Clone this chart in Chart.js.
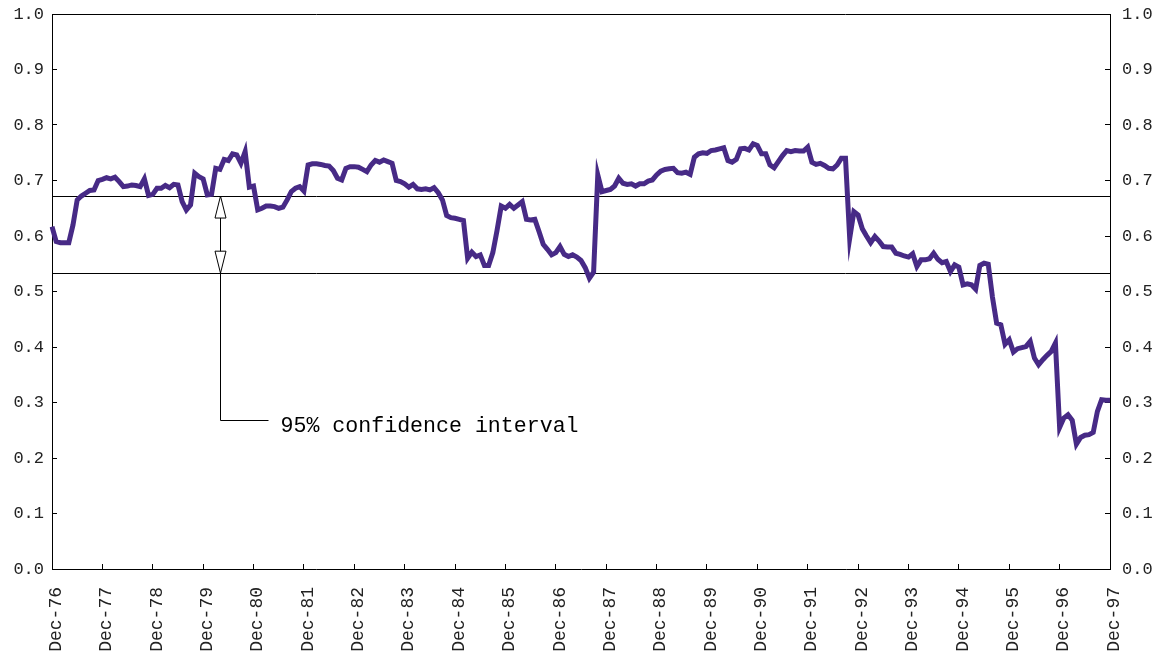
<!DOCTYPE html>
<html>
<head>
<meta charset="utf-8">
<script src="https://cdn.jsdelivr.net/npm/chart.js@4.4.1/dist/chart.umd.min.js"></script>
<style>
  html, body { margin: 0; padding: 0; background: #fff; }
  #chart { display: block; }
</style>
</head>
<body>
<canvas id="chart" width="1152" height="658"></canvas>
<script>
// Year-end tick labels (one every 12 months)
const tickLabels = ['Dec-76','Dec-77','Dec-78','Dec-79','Dec-80','Dec-81','Dec-82',
    'Dec-83','Dec-84','Dec-85','Dec-86','Dec-87','Dec-88','Dec-89','Dec-90',
    'Dec-91','Dec-92','Dec-93','Dec-94','Dec-95','Dec-96','Dec-97'];

// Monthly values, Dec-76 .. Dec-97 (one row per year, starting at Dec)
const values = [
    0.617, 0.590, 0.588, 0.588, 0.588, 0.620, 0.665, 0.672, 0.677, 0.682, 0.683, 0.700,
    0.702, 0.705, 0.703, 0.706, 0.698, 0.689, 0.690, 0.692, 0.691, 0.689, 0.703, 0.673,
    0.675, 0.686, 0.686, 0.691, 0.687, 0.693, 0.692, 0.662, 0.647, 0.656, 0.713, 0.707,
    0.703, 0.674, 0.675, 0.722, 0.720, 0.738, 0.736, 0.748, 0.746, 0.731, 0.752, 0.688,
    0.690, 0.647, 0.650, 0.654, 0.654, 0.653, 0.650, 0.652, 0.665, 0.680, 0.686, 0.689,
    0.681, 0.728, 0.730, 0.730, 0.729, 0.727, 0.726, 0.718, 0.704, 0.701, 0.722, 0.725,
    0.725, 0.724, 0.720, 0.716, 0.728, 0.736, 0.733, 0.737, 0.734, 0.731, 0.700, 0.698,
    0.694, 0.688, 0.693, 0.685, 0.684, 0.685, 0.683, 0.687, 0.678, 0.665, 0.637, 0.633,
    0.632, 0.630, 0.628, 0.560, 0.571, 0.563, 0.566, 0.547, 0.547, 0.570, 0.610, 0.654,
    0.650, 0.657, 0.650, 0.656, 0.662, 0.630, 0.629, 0.630, 0.608, 0.585, 0.576, 0.566,
    0.570, 0.581, 0.567, 0.563, 0.566, 0.562, 0.556, 0.543, 0.524, 0.535, 0.710, 0.680,
    0.682, 0.684, 0.690, 0.704, 0.695, 0.693, 0.694, 0.690, 0.694, 0.694, 0.699, 0.701,
    0.710, 0.717, 0.720, 0.721, 0.722, 0.714, 0.713, 0.715, 0.711, 0.742, 0.748, 0.750,
    0.749, 0.754, 0.755, 0.757, 0.759, 0.736, 0.733, 0.738, 0.757, 0.758, 0.755, 0.766,
    0.763, 0.748, 0.748, 0.728, 0.723, 0.734, 0.745, 0.754, 0.752, 0.754, 0.753, 0.753,
    0.760, 0.733, 0.729, 0.731, 0.727, 0.722, 0.721, 0.728, 0.740, 0.740, 0.596, 0.644,
    0.638, 0.613, 0.600, 0.588, 0.599, 0.591, 0.581, 0.580, 0.580, 0.569, 0.567, 0.564,
    0.562, 0.568, 0.545, 0.557, 0.557, 0.559, 0.569, 0.558, 0.552, 0.554, 0.536, 0.548,
    0.544, 0.512, 0.514, 0.512, 0.504, 0.547, 0.551, 0.549, 0.490, 0.443, 0.440, 0.405,
    0.413, 0.391, 0.397, 0.399, 0.401, 0.410, 0.380, 0.368, 0.377, 0.385, 0.392, 0.407,
    0.255, 0.272, 0.278, 0.268, 0.225, 0.237, 0.241, 0.242, 0.246, 0.284, 0.305, 0.304,
    0.304
];

// 95% confidence band (lower, upper)
const ciBounds = [0.533, 0.672];
const noteText = '95% confidence interval';
const noteIndex = 40;     // month where the arrow sits
const noteValue = 0.268;  // level of the callout line

// one category per month; only Decembers get a label
const months = values.map((v, i) => i % 12 === 0 ? tickLabels[i / 12] : '');

const FONT = "'Liberation Mono', 'DejaVu Sans Mono', monospace";

function arrowHead(ctx, x, tipY, dir) {
    // open triangle, dir = -1 up, +1 down
    const h = 22, w = 5.5;
    ctx.beginPath();
    ctx.moveTo(x, tipY);
    ctx.lineTo(x - w, tipY - dir * h);
    ctx.lineTo(x + w, tipY - dir * h);
    ctx.closePath();
    ctx.fillStyle = '#fff';
    ctx.fill();
    ctx.stroke();
}

const bandPlugin = {
    id: 'band',
    beforeDatasetsDraw(chart) {
        const { ctx, chartArea: a, scales: { y } } = chart;
        ctx.save();
        ctx.strokeStyle = '#000';
        ctx.lineWidth = 1;
        ciBounds.forEach(b => {
            const py = Math.round(y.getPixelForValue(b)) + 0.5;
            ctx.beginPath();
            ctx.moveTo(a.left, py);
            ctx.lineTo(a.right, py);
            ctx.stroke();
        });
        // top frame line
        ctx.beginPath();
        ctx.moveTo(a.left, Math.round(a.top) + 0.5);
        ctx.lineTo(a.right, Math.round(a.top) + 0.5);
        ctx.stroke();
        ctx.restore();
    },
    afterDatasetsDraw(chart) {
        const { ctx, scales: { x, y } } = chart;
        const px = Math.round(x.getPixelForValue(noteIndex)) + 0.5;
        const top = y.getPixelForValue(ciBounds[1]);
        const bot = y.getPixelForValue(ciBounds[0]);
        const ny = Math.round(y.getPixelForValue(noteValue)) + 0.5;
        ctx.save();
        ctx.strokeStyle = '#000';
        ctx.lineWidth = 1;
        ctx.beginPath();
        ctx.moveTo(px, top);
        ctx.lineTo(px, ny);
        ctx.lineTo(px + 48, ny);
        ctx.stroke();
        arrowHead(ctx, px, top, -1);
        arrowHead(ctx, px, bot, 1);
        ctx.fillStyle = '#000';
        ctx.font = "21.6px " + FONT;
        ctx.textBaseline = 'middle';
        ctx.fillText(noteText, px + 60, ny + 6);
        ctx.restore();
    }
};

// drop the automatic edge padding Chart.js adds for overhanging labels
function noPad(s) {
    s.paddingTop = 0;
    s.paddingBottom = 0;
    s.paddingLeft = 0;
    s.paddingRight = 0;
}

const yTicks = (pad) => ({
    min: 0, max: 1,
    ticks: {
        stepSize: 0.1,
        padding: pad,
        color: '#222',
        font: { family: FONT, size: 17 },
        callback: v => v.toFixed(1)
    },
    grid: { drawOnChartArea: false, drawTicks: true, tickLength: -5, color: '#000' },
    border: { display: true, color: '#000', width: 1 }
});

const yLeft = yTicks(13);
yLeft.position = 'left';
yLeft.afterFit = s => { s.width = 52; noPad(s); };

const yRight = yTicks(17);
yRight.position = 'right';
yRight.afterFit = s => { s.width = 42; noPad(s); };

new Chart(document.getElementById('chart'), {
    type: 'line',
    data: {
        labels: months,
        datasets: [{
            data: values,
            borderColor: '#472a86',
            borderWidth: 5,
            pointRadius: 0,
            tension: 0,
            fill: false
        }]
    },
    options: {
        responsive: false,
        animation: false,
        devicePixelRatio: 1,
        layout: { padding: { top: 14, left: 0, right: 0, bottom: 0 } },
        plugins: { legend: { display: false }, tooltip: { enabled: false } },
        scales: {
            x: {
                offset: false,
                afterFit: s => { s.height = 89; noPad(s); },
                ticks: {
                    autoSkip: false,
                    maxRotation: 90,
                    minRotation: 90,
                    padding: 23,
                    labelOffset: 4,
                    color: '#222',
                    font: { family: FONT, size: 18 },
                    callback: function (val, i) {
                        return i % 12 === 0 ? months[i] : null;
                    }
                },
                grid: { drawOnChartArea: false, drawTicks: true, tickLength: -5, color: '#000' },
                border: { display: true, color: '#000', width: 1 }
            },
            y: yLeft,
            y2: yRight
        }
    },
    plugins: [bandPlugin]
});
</script>
</body>
</html>
